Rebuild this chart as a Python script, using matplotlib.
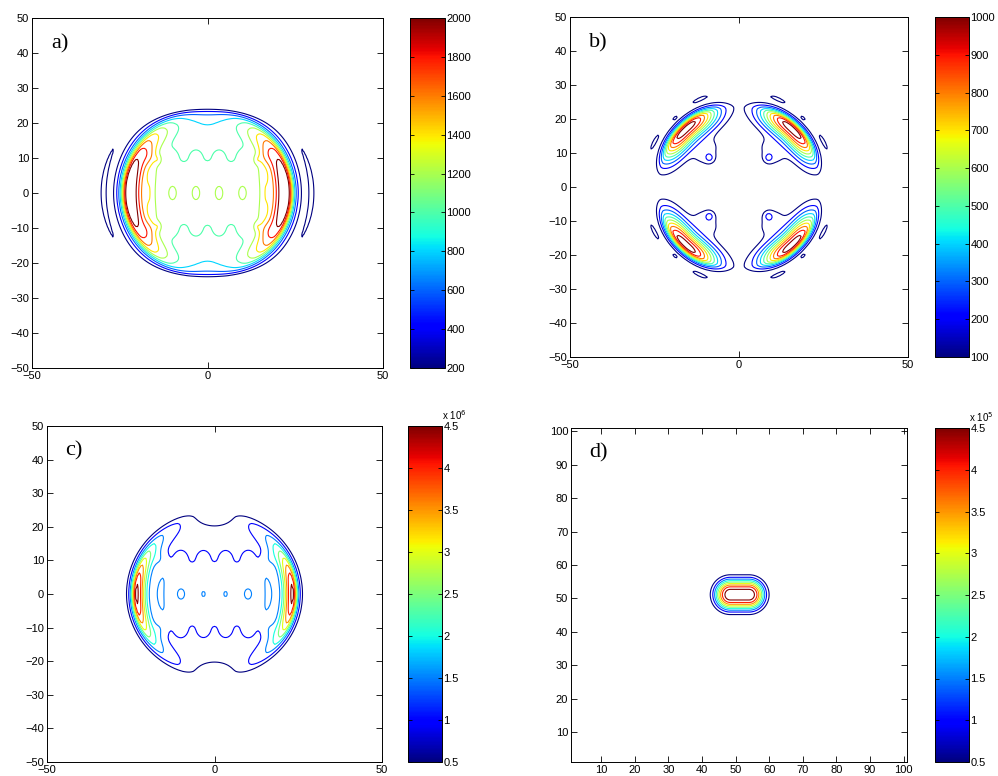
import numpy as np
import matplotlib.pyplot as plt
from matplotlib.cm import ScalarMappable
from matplotlib.colors import Normalize

plt.rcParams['font.family'] = ['Liberation Sans', 'DejaVu Sans']
plt.rcParams['font.size'] = 8

# ---------------- panel a ----------------
a_levels = [200, 400, 600, 800, 1000, 1200, 1400, 1600, 1800, 2000]
a_body = [950, 27.8, 25.3, 8.0, 0.169]        # height, radius, half height, blend, edge
a_core = [130, 17.0, 8.8, 4.0, 0.06]          # centre plateau
a_lobe_ang = [0, 180]
a_lobe = [1650, 22.6, 3.0, 1.3, 0.7]          # height, radius, inner w, outer w, angle w
a_halo = [300, 29.6, 0.8, 0.8, 0.5]
a_arc = [260, 16.3, 1.2, 1.2, 0.30]
a_spot_x = [-10, -3.3, 3.3, 10]
a_spot_h = [250, 220, 220, 250]
a_spot = [1.0, 1.8]
a_bump_x = [-16, -10, -3.3, 3.3, 10, 16]
a_bump = [200, 10.0, 1.5, 2.0]
a_dot_xy = [(-14, 9.5), (14, 9.5), (-14, -9.5), (14, -9.5)]
a_dot = [200, 0.8, 1.0]

# ---------------- panel b ----------------
b_levels = [100, 200, 300, 400, 500, 600, 700, 800, 900, 1000]
b_lobe_ang = [47, 133, 227, 313]
b_lobe = [1060, 23.3, 3.0, 1.5, 0.365, 2.6]   # ... angle w, angle exponent
b_inner = [140, 14.0, 2.3, 2.3, 0.26]
b_sat_off = [-19, 19]
b_sat = [140, 28.3, 0.55, 0.55, 0.10]
b_sat_dot = [115, 27.8, 0.45, 0.45, 0.04]
b_ring_xy = [(8.6, 8.4), (-8.6, 8.4), (-8.6, -8.4), (8.6, -8.4)]
b_ring = [140, 1.1]

# ---------------- panel c (x 10^6) ----------------
c_levels = [0.5, 1.0, 1.5, 2.0, 2.5, 3.0, 3.5, 4.0, 4.5]
c_body = [0.85, 26.3, 25.0, 2.0, 0.015]
c_notch_y = [25, -25]
c_notch = [1.23, 4.5, 3.0]
c_core = [0.4, 17.0, 8.8, 4.0, 0.06]
c_lobe_ang = [0, 180]
c_lobe = [3.8, 23.3, 2.0, 1.0, 0.45]
c_arc = [0.55, 16.3, 1.1, 1.1, 0.30]
c_spot_x = [-10, -3.3, 3.3, 10]
c_spot_amp = [0.5, 0.3, 0.3, 0.5]
c_spot = [0.9, 1.3]
c_bump_x = [-16, -10, -3.3, 3.3, 10, 16]
c_bump = [0.45, 10.0, 1.5, 2.0]

# ---------------- panel d (x 10^5) ----------------
d_levels = [0.5, 1.0, 1.5, 2.0, 2.5, 3.0, 3.5, 4.0, 4.5]
d_centre = [51.2, 51.1]
d_spot = [4.8, 2.8, 4.4, 2.7]      # height, half length, width, exponent


def body(X, Y, h, rad, hy, p, w):
    # round disc cut flat at |y| = hy
    r = ((np.hypot(X, Y) / rad) ** p + np.abs(Y / hy) ** p) ** (1 / p)
    return h * (1 - np.exp(-np.clip(1 - r, 0, None) / w))


def plateau(X, Y, h, rx, ry, p, w):
    r = (np.abs(X / rx) ** p + np.abs(Y / ry) ** p) ** (1 / p)
    return h / (1 + np.exp(np.clip((r - 1) / w, -50, 50)))


def ring(X, Y, h, r0, w_in, w_out, wth, th0, q=2.0):
    r = np.hypot(X, Y)
    dth = np.angle(np.exp(1j * (np.arctan2(Y, X) - np.radians(th0))))
    w = np.where(r < r0, w_in, w_out)
    return h * np.exp(-(r - r0) ** 2 / (2 * w ** 2) - np.abs(dth / wth) ** q / 2)


def blob(X, Y, h, x0, y0, sx, sy):
    return h * np.exp(-(X - x0) ** 2 / (2 * sx ** 2) - (Y - y0) ** 2 / (2 * sy ** 2))


xs = np.arange(-50, 50.01, 0.5)
X, Y = np.meshgrid(xs, xs)

# a)
Za = body(X, Y, *a_body) + plateau(X, Y, *a_core)
for t in a_lobe_ang:
    Za += ring(X, Y, *a_lobe, t) + ring(X, Y, *a_halo, t) + ring(X, Y, *a_arc, t)
for x0, h in zip(a_spot_x, a_spot_h):
    Za += blob(X, Y, h, x0, 0, a_spot[0], a_spot[1])
for x0 in a_bump_x:
    for sgn in (1, -1):
        Za += blob(X, Y, a_bump[0], x0, sgn * a_bump[1], a_bump[2], a_bump[3])
for x0, y0 in a_dot_xy:
    Za += blob(X, Y, a_dot[0], x0, y0, a_dot[1], a_dot[2])

# b)
Zb = np.zeros_like(X)
for t in b_lobe_ang:
    Zb += ring(X, Y, *b_lobe[:5], t, b_lobe[5]) + ring(X, Y, *b_inner, t)
    Zb += ring(X, Y, *b_sat_dot, t)
    for off in b_sat_off:
        Zb += ring(X, Y, *b_sat, t + off)
for x0, y0 in b_ring_xy:
    Zb += blob(X, Y, b_ring[0], x0, y0, b_ring[1], b_ring[1])

# c)
Zc = plateau(X, Y, *c_body) + plateau(X, Y, *c_core)
for y0 in c_notch_y:
    Zc -= blob(X, Y, c_notch[0], 0, y0, c_notch[1], c_notch[2])
for t in c_lobe_ang:
    Zc += ring(X, Y, *c_lobe, t) + ring(X, Y, *c_arc, t)
for x0, h in zip(c_spot_x, c_spot_amp):
    Zc += blob(X, Y, h, x0, 0, c_spot[0], c_spot[1])
for x0 in c_bump_x:
    for sgn in (1, -1):
        Zc += blob(X, Y, c_bump[0], x0, sgn * c_bump[1], c_bump[2], c_bump[3])

# d)
xd = np.arange(1, 101.01, 0.25)
XD, YD = np.meshgrid(xd, xd)
dx = np.clip(np.abs(XD - d_centre[0]) - d_spot[1], 0, None)
dist = np.hypot(dx, YD - d_centre[1])
Zd = d_spot[0] * np.exp(-(dist / d_spot[2]) ** d_spot[3])

W, H = 998, 776


def box(l, t, r, b):
    return [l / W, 1 - b / H, (r - l) / W, (b - t) / H]


fig = plt.figure(figsize=(W / 100, H / 100), dpi=100)

panels = [
    (Za, xs, a_levels, box(32, 18, 383, 368), box(410, 18, 445, 368), 'a)', None),
    (Zb, xs, b_levels, box(570, 17, 908, 357), box(935, 17, 969, 357), 'b)', None),
    (Zc, xs, c_levels, box(47, 426, 382, 762), box(408, 426, 442, 762), 'c)', 6),
    (Zd, xd, d_levels, box(571, 428, 907, 762), box(935, 428, 969, 762), 'd)', 5),
]

for Z, g, levels, apos, cpos, tag, expo in panels:
    ax = fig.add_axes(apos)
    norm = Normalize(levels[0], levels[-1])
    ax.contour(g, g, Z, levels=levels, cmap='jet', norm=norm, linewidths=0.8)
    if expo == 5:
        ax.set_xlim(1, 101)
        ax.set_ylim(1, 101)
        ax.set_xticks(range(10, 101, 10))
        ax.set_yticks(range(10, 101, 10))
    else:
        ax.set_xlim(-50, 50)
        ax.set_ylim(-50, 50)
        ax.set_xticks([-50, 0, 50])
        ax.set_yticks(range(-50, 51, 10))
    ax.tick_params(direction='in', top=True, right=True, length=4, width=0.6, pad=2)
    for s in ax.spines.values():
        s.set_linewidth(0.7)
    ax.text(0.055, 0.925, tag, transform=ax.transAxes, va='center', ha='left',
            fontsize=16, family=['Liberation Serif', 'DejaVu Serif'])

    cax = fig.add_axes(cpos)
    sm = ScalarMappable(norm=norm, cmap='jet')
    cb = fig.colorbar(sm, cax=cax, ticks=levels)
    cb.outline.set_linewidth(0.7)
    if expo:
        cb.ax.set_yticklabels(['%g' % v for v in levels])
        fig.text(cpos[0] + cpos[2], cpos[1] + cpos[3] + 4 / H, 'x 10$^{%d}$' % expo,
                 fontsize=7, ha='left', va='bottom')
    cax.tick_params(axis='y', direction='in', left=True, right=True, length=3,
                    width=0.6, pad=1)

fig.savefig('out.png', dpi=100)
